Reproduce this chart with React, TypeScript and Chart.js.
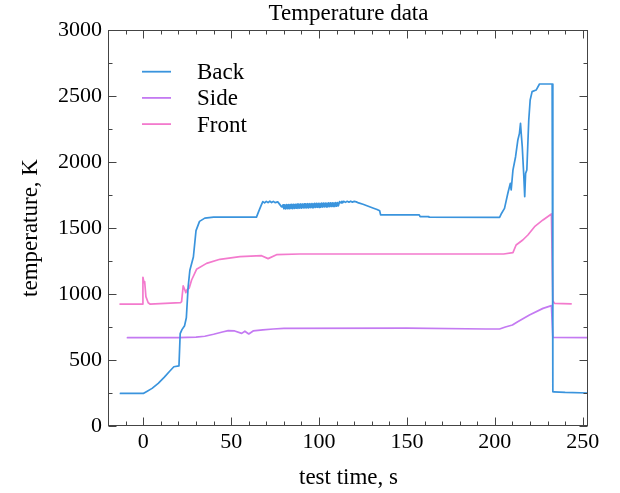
import { useEffect, useRef } from 'react';
import { Chart, registerables } from 'chart.js';

Chart.register(...registerables);

const chartTitle = 'Temperature data';
const seriesNames = ['Back', 'Side', 'Front'];
const seriesColors = ['#3a94dd', '#c47af2', '#f37acd'];

const backT = [
  -13, 0, 2, 5, 8.5, 12, 15, 17.4, 20.3, 21, 22, 23.5, 24.5, 25.5, 26.5, 28.5, 30, 32, 35, 40,
  64.4, 65.5, 67, 68, 69, 70, 71, 72, 73, 74, 75, 76.5, 78.6,
  79, 79.5, 80, 80.5, 81, 81.5, 82, 82.5, 83, 83.5, 84, 84.5, 85, 85.5, 86, 86.5, 87, 87.5, 88, 88.5,
  89, 89.5, 90, 90.5, 91, 91.5, 92, 92.5, 93, 93.5, 94, 94.5, 95, 95.5, 96, 96.5, 97, 97.5, 98, 98.5,
  99, 99.5, 100, 100.5, 101, 101.5, 102, 102.5, 103, 103.5, 104, 104.5, 105, 105.5, 106, 106.5, 107,
  107.5, 108, 108.5, 109, 109.5, 110, 110.5, 111,
  111.7, 112.5, 113, 113.5, 114, 115, 116, 117, 118, 119, 120, 121.2, 122.5, 125, 128, 131, 133, 134.5, 135,
  157, 157.5, 162, 162.5, 202.7, 203.6, 205.5, 207.4, 208.8, 209.3, 210.3, 211.8, 213.1, 214,
  214.6, 215, 215.6, 216.5, 217, 217.5, 218.2, 219.3, 220.1, 221.2, 223.5, 225.4, 232.6, 233,
  233.5, 240, 253,
];
const backV = [
  247, 247, 262, 285, 323, 370, 415, 449, 455, 700, 730, 760, 820, 1050, 1180, 1280, 1480, 1550, 1575, 1582,
  1582, 1620, 1670, 1700, 1690, 1702, 1692, 1703, 1693, 1702, 1692, 1698, 1662,
  1660, 1676, 1646, 1675, 1645, 1677, 1647, 1678, 1646, 1678, 1648, 1679, 1647, 1680, 1649, 1680, 1650, 1681, 1649, 1681,
  1651, 1682, 1650, 1682, 1652, 1683, 1652, 1683, 1653, 1684, 1653, 1684, 1654, 1685, 1655, 1685, 1655, 1686, 1656, 1686,
  1657, 1687, 1657, 1687, 1658, 1688, 1659, 1688, 1660, 1689, 1660, 1689, 1661, 1690, 1662, 1690, 1663,
  1691, 1663, 1691, 1664, 1692, 1665, 1692, 1668,
  1700, 1690, 1702, 1692, 1702, 1694, 1702, 1695, 1703, 1695, 1702, 1698, 1690, 1680, 1665, 1650, 1640, 1630, 1600,
  1600, 1586, 1586, 1583, 1581, 1606, 1649, 1763, 1838, 1788, 1939, 2040, 2167, 2217,
  2293, 2217, 2116, 1888, 1737, 1914, 1939, 2318, 2470, 2533, 2545, 2591, 2591, 260,
  258, 254, 250,
];

const sideT = [
  -9, 0, 20, 30, 35, 40, 45, 48.3, 52, 56, 57.8, 60, 62.5, 68, 73.9, 80, 150, 195, 202.7, 206,
  210, 213, 219.7, 227.4, 232.2, 233, 253,
];
const sideV = [
  669, 669, 670, 673, 680, 695, 712, 722, 720, 702, 718, 697, 720, 728, 735, 740, 742, 735, 735, 750,
  765, 790, 841, 891, 912, 672, 670,
];

const frontT = [
  -13.2, -0.5, -0.2, 0.4, 0.8, 1.5, 2.8, 3.8, 21.2, 21.8, 22.7, 23.7, 24.2, 25, 26.1, 27.5, 30.3, 36,
  43.6, 55, 67.3, 71, 75.8, 89, 150, 205, 210.3, 212.1, 215.9, 218.8, 222.6, 227.4, 232.2, 233,
  234, 243.4,
];
const frontV = [
  924, 924, 1127, 1086, 1093, 980, 934, 924, 935, 942, 1061, 1030, 1010, 1035, 1043, 1106, 1187, 1232,
  1263, 1283, 1290, 1268, 1298, 1303, 1303, 1303, 1313, 1371, 1409, 1447, 1510, 1561, 1606, 949,
  929, 925,
];

const xTicks = [0, 50, 100, 150, 200, 250];
const yTicks = [0, 500, 1000, 1500, 2000, 2500, 3000];
const xMinorStep = 10;
const yMinorStep = 250;

const FONT = "'Liberation Serif', 'Times New Roman', serif";

function pairs(t: number[], v: number[]) {
  return t.map((x, i) => ({ x, y: v[i] }));
}

const framePlugin = {
  id: 'frameTicksLegend',
  afterDraw(chart: any) {
    const { ctx, chartArea, scales } = chart;
    const { left, right, top, bottom } = chartArea;
    const xs = scales.x;
    const ys = scales.y;
    ctx.save();
    // title
    ctx.fillStyle = '#000';
    ctx.font = `23px ${FONT}`;
    ctx.textAlign = 'center';
    ctx.textBaseline = 'middle';
    ctx.fillText(chartTitle, (left + right) / 2, 14);

    ctx.strokeStyle = '#444';
    ctx.lineWidth = 1;
    const L = Math.round(left) - 0.5;
    const R = Math.round(right) - 0.5;
    const T = Math.round(top) + 0.5;
    const B = Math.round(bottom) - 0.5;
    ctx.strokeRect(L, T, R - L, B - T);
    ctx.beginPath();
    for (let v = Math.ceil(xs.min / xMinorStep) * xMinorStep; v <= xs.max; v += xMinorStep) {
      const len = xTicks.includes(v) ? 8 : 4;
      const px = Math.round(xs.getPixelForValue(v)) + 0.5;
      ctx.moveTo(px, B);
      ctx.lineTo(px, B - len);
      ctx.moveTo(px, T);
      ctx.lineTo(px, T + len);
    }
    for (let v = ys.min; v <= ys.max; v += yMinorStep) {
      const len = yTicks.includes(v) ? 8 : 4;
      const py = Math.round(ys.getPixelForValue(v)) + 0.5;
      ctx.moveTo(L, py);
      ctx.lineTo(L + len, py);
      ctx.moveTo(R, py);
      ctx.lineTo(R - len, py);
    }
    ctx.stroke();

    // legend
    ctx.font = `23px ${FONT}`;
    ctx.textBaseline = 'middle';
    ctx.textAlign = 'left';
    chart.data.datasets.forEach((ds: any, i: number) => {
      const y = top + 41.7 + i * 26.2;
      ctx.strokeStyle = ds.borderColor;
      ctx.lineWidth = 1.8;
      ctx.beginPath();
      ctx.moveTo(left + 33, y);
      ctx.lineTo(left + 62, y);
      ctx.stroke();
      ctx.fillStyle = '#000';
      ctx.fillText(ds.label, left + 88, y + 1.5);
    });
    ctx.restore();
  },
};

export default function App() {
  const ref = useRef<HTMLCanvasElement | null>(null);
  useEffect(() => {
    if (!ref.current) return;
    const series = [pairs(backT, backV), pairs(sideT, sideV), pairs(frontT, frontV)];
    const chart = new Chart(ref.current, {
      type: 'line',
      data: {
        datasets: series.map((d, i) => ({
          label: seriesNames[i],
          data: d,
          borderColor: seriesColors[i],
          backgroundColor: seriesColors[i],
          borderWidth: 1.7,
          borderJoinStyle: 'round',
          borderCapStyle: 'round',
          pointRadius: 0,
          tension: 0,
          fill: false,
        })),
      },
      options: {
        responsive: false,
        animation: false,
        layout: { padding: { left: 0, right: 32, top: 30, bottom: 0 } },
        plugins: {
          legend: { display: false },
          tooltip: { enabled: false },
          title: { display: false },
        },
        scales: {
          x: {
            type: 'linear',
            min: -19.5,
            max: 253,
            afterBuildTicks: (s: any) => {
              s.ticks = xTicks.map((v) => ({ value: v }));
            },
            afterFit: (s: any) => {
              s.height = 67;
            },
            grid: { display: false, drawTicks: false },
            border: { display: false },
            ticks: {
              color: '#000',
              font: { family: FONT, size: 22 },
              padding: 3,
              maxRotation: 0,
              autoSkip: false,
              callback: (v: any) => String(v),
            },
            title: {
              display: true,
              text: 'test time, s',
              color: '#000',
              font: { family: FONT, size: 23 },
              padding: { top: 0, bottom: 1.5 },
            },
          },
          y: {
            type: 'linear',
            min: 0,
            max: 3000,
            afterBuildTicks: (s: any) => {
              s.ticks = yTicks.map((v) => ({ value: v }));
            },
            afterFit: (s: any) => {
              s.width = 109;
            },
            grid: { display: false, drawTicks: false },
            border: { display: false },
            ticks: {
              color: '#000',
              font: { family: FONT, size: 22 },
              padding: 7,
              autoSkip: false,
              callback: (v: any) => String(v),
            },
            title: {
              display: true,
              text: 'temperature, K',
              color: '#000',
              font: { family: FONT, size: 23 },
              padding: { top: 17, bottom: 0 },
            },
          },
        },
      } as any,
      plugins: [framePlugin],
    });
    return () => chart.destroy();
  }, []);
  return (
    <div style={{ position: 'absolute', left: 0, top: 0, width: 620, height: 493, background: '#fff' }}>
      <canvas ref={ref} width={620} height={493} style={{ display: 'block' }} />
    </div>
  );
}
